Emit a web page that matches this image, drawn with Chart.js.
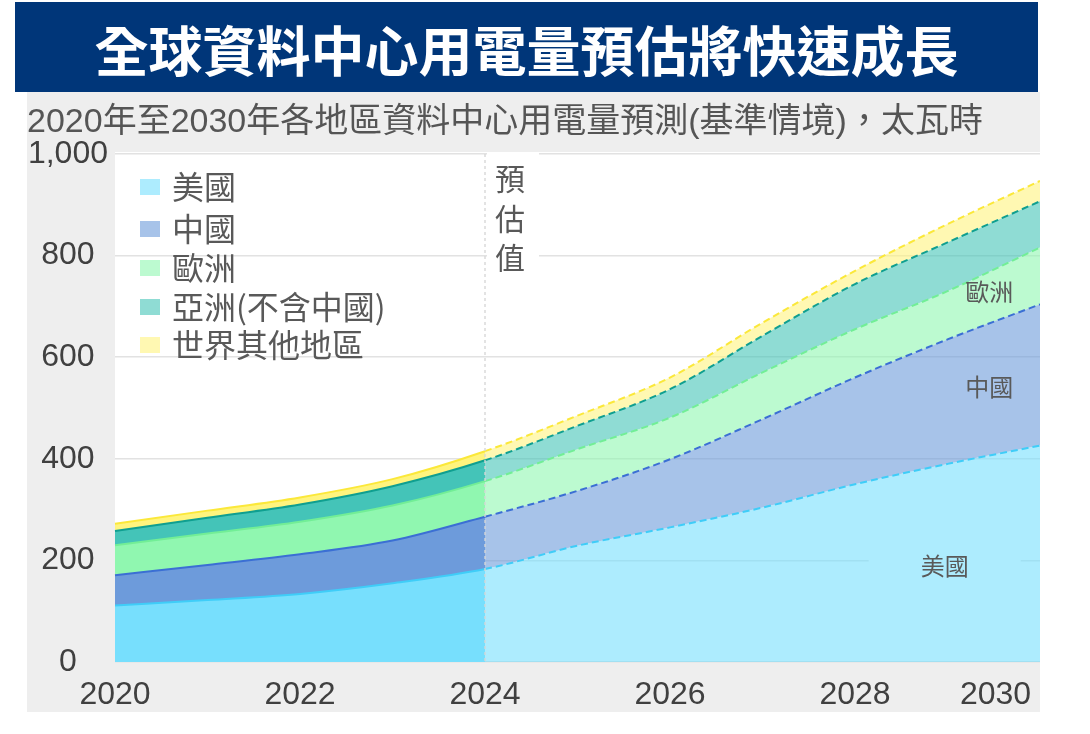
<!DOCTYPE html>
<html>
<head>
<meta charset="utf-8">
<script src="https://cdn.jsdelivr.net/npm/chart.js@4.4.0/dist/chart.umd.min.js"></script>
<style>
  body { margin: 0; background: #fff; width: 1090px; height: 734px; position: relative; overflow: hidden; }
  #banner { position: absolute; left: 15px; top: 2px; width: 1023px; height: 87px; padding-top: 3px;
    background: #003679; color: #fff; font: bold 54px "Noto Sans CJK TC", sans-serif;
    text-align: center; line-height: 87px; }
  #wrap { position: absolute; left: 27px; top: 92px; width: 1013px; height: 620px; background: #eeeeee; }
</style>
</head>
<body>
<div id="banner">全球資料中心用電量預估將快速成長</div>
<div id="wrap"><canvas id="chart" width="1013" height="620"></canvas></div>
<script>
const FONT = '"Liberation Sans", Arial, "Noto Sans CJK TC", sans-serif';
const CJK = '"Noto Sans CJK TC", sans-serif';

// data, TWh per region (stacked)
const years = ['2020', '2021', '2022', '2023', '2024', '2025', '2026', '2027', '2028', '2029', '2030'];
const usa = [111, 122, 134, 155, 183, 229, 265, 304, 350, 390, 426];
const china = [60, 69, 78, 84, 103, 108, 134, 174, 210, 245, 278];
const europe = [59, 62, 64, 69, 70, 82, 82, 92, 95, 95, 112];
const asia = [28, 31, 34, 38, 41, 46, 56, 72, 89, 96, 91];
const rest = [14, 14, 14, 14, 18, 20, 23, 26, 26, 36, 40];
const regions = ['美國', '中國', '歐洲', '亞洲(不含中國)', '世界其他地區'];
const yTicks = [0, 200, 400, 600, 800, 1000];
const forecastFrom = 4; // 2024 onwards is estimate

const series = [usa, china, europe, asia, rest];
const fills = ['#77dffd', '#6d9bdb', '#90f7b0', '#44c4b8', '#fff47e'];
const strokes = ['#3fcdf8', '#3b6fd4', '#72ee96', '#0f9f90', '#fbe83a'];

function fade(hex, a) {
  const n = parseInt(hex.slice(1), 16);
  return `rgba(${n >> 16}, ${(n >> 8) & 255}, ${n & 255}, ${a})`;
}

// annotations placed in data units (x = index, y = TWh)
const inlineLabels = [
  { text: '歐洲', x: 9.45, y: 728 },
  { text: '中國', x: 9.45, y: 541 },
  { text: '美國', x: 8.97, y: 189, box: true }
];

const decor = {
  id: 'decor',
  beforeDraw(chart) {
    const { ctx, chartArea: ca } = chart;
    ctx.save();
    ctx.fillStyle = '#fff';
    ctx.fillRect(ca.left, ca.top - 2, ca.width, ca.bottom - ca.top + 2);
    ctx.restore();
  },
  beforeDatasetsDraw(chart) {
    const { ctx, chartArea: ca, scales } = chart;
    const fx = scales.x.getPixelForValue(forecastFrom);
    ctx.save();
    ctx.fillStyle = '#fff';
    ctx.fillRect(fx + 2, ca.top - 2, 52, 126);
    inlineLabels.filter(l => l.box).forEach(l => {
      const x = scales.x.getPixelForValue(l.x), y = scales.y.getPixelForValue(l.y);
      ctx.fillRect(x - 76, y - 12, 152, 24);
    });
    ctx.restore();
  },
  afterDatasetsDraw(chart) {
    const { ctx, chartArea: ca, scales } = chart;
    const fx = scales.x.getPixelForValue(forecastFrom);
    ctx.save();
    // dashed divider at 2024
    ctx.strokeStyle = 'rgba(214,214,214,0.9)';
    ctx.lineWidth = 1.5;
    ctx.setLineDash([3, 3]);
    ctx.beginPath();
    ctx.moveTo(fx, ca.top);
    ctx.lineTo(fx, ca.bottom);
    ctx.stroke();
    ctx.setLineDash([]);

    ctx.fillStyle = '#595959';
    ctx.textAlign = 'center';
    ctx.textBaseline = 'middle';
    ctx.font = '30px ' + CJK;
    ['預', '估', '值'].forEach((ch, i) => ctx.fillText(ch, fx + 25, ca.top + 25 + i * 39.5));

    ctx.font = '24px ' + CJK;
    inlineLabels.forEach(l => {
      ctx.fillText(l.text, scales.x.getPixelForValue(l.x), scales.y.getPixelForValue(l.y));
    });

    // legend
    const rows = [33, 75, 114, 153, 191];
    ctx.textAlign = 'left';
    ctx.font = '32px ' + CJK;
    regions.forEach((name, i) => {
      const y = ca.top + rows[i];
      ctx.fillStyle = fade(fills[i], 0.6);
      ctx.fillRect(ca.left + 25, y - 8, 20, 16);
      ctx.fillStyle = '#595959';
      ctx.fillText(name, ca.left + 57, y);
    });
    ctx.restore();
  }
};

new Chart(document.getElementById('chart'), {
  type: 'line',
  data: {
    labels: years,
    datasets: series.map((data, i) => ({
      label: regions[i],
      data,
      fill: i === 0 ? 'origin' : '-1',
      backgroundColor: fills[i],
      borderColor: strokes[i],
      borderWidth: 2,
      pointRadius: 0,
      cubicInterpolationMode: 'monotone',
      segment: {
        backgroundColor: c => c.p0DataIndex >= forecastFrom ? fade(fills[i], 0.6) : undefined,
        borderDash: c => c.p0DataIndex >= forecastFrom ? [7, 4] : undefined
      }
    }))
  },
  options: {
    responsive: false,
    animation: false,
    layout: { padding: 0 },
    plugins: {
      legend: { display: false },
      tooltip: { enabled: false },
      title: {
        display: true,
        text: '2020年至2030年各地區資料中心用電量預測(基準情境)，太瓦時',
        align: 'start',
        color: '#555',
        font: { family: FONT, size: 34, weight: 'normal' },
        padding: { top: 10.6, bottom: 10.6 }
      }
    },
    scales: {
      x: {
        grid: { display: false },
        border: { display: false },
        ticks: {
          autoSkip: false,
          maxRotation: 0,
          color: '#404040',
          padding: 6,
          font: { family: FONT, size: 32 },
          callback: (v, i) => {
            if (i % 2) return '';
            return i === years.length - 1 ? years[i] + ' '.repeat(10) : years[i];
          }
        },
        afterFit: s => { s.height = 50; s.paddingRight = 0; }
      },
      y: {
        stacked: true,
        min: yTicks[0],
        max: yTicks[yTicks.length - 1],
        border: { display: false },
        grid: { color: '#e2e2e2', lineWidth: 1.5, drawTicks: false },
        ticks: {
          stepSize: yTicks[1] - yTicks[0],
          crossAlign: 'center',
          padding: 7,
          color: '#404040',
          font: { family: FONT, size: 32 },
          callback: v => v.toLocaleString('en-US')
        },
        afterFit: s => { s.width = 88; }
      }
    }
  },
  plugins: [decor]
});
</script>
</body>
</html>
